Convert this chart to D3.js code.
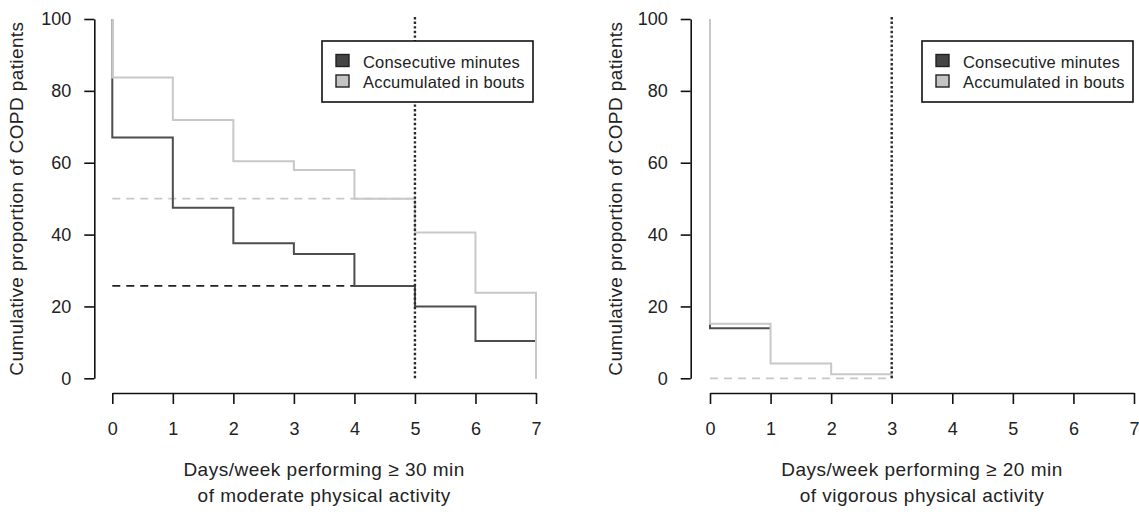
<!DOCTYPE html>
<html>
<head>
<meta charset="utf-8">
<script src="https://cdn.jsdelivr.net/npm/d3@7"></script>
<style>
  html, body { margin: 0; padding: 0; background: #fff; }
  svg { display: block; font-family: "Liberation Sans", Arial, sans-serif; }
</style>
</head>
<body>
<svg id="chart" width="1139" height="512"></svg>
<script>
// ---- data ----
const days = [0, 1, 2, 3, 4, 5, 6, 7];
const yTicks = [0, 20, 40, 60, 80, 100];
const seriesNames = ["Consecutive minutes", "Accumulated in bouts"];
// value of the cumulative proportion on interval [k, k+1]
const moderateConsecutive = [67.0, 47.5, 37.6, 34.6, 25.7, 20.0, 10.4];
const moderateAccumulated = [83.7, 71.9, 60.4, 58.0, 50.0, 40.6, 23.8];
const vigorousConsecutive = [13.9];
const vigorousAccumulated = [15.2, 4.1, 1.1];
const moderateThreshold = 5;
const vigorousThreshold = 3;
const moderateRefLevels = [25.7, 50.0];   // consecutive, accumulated at threshold
const vigorousRefLevels = [null, 0];
const moderateTitle = ["Days/week performing \u2265 30 min", "of moderate physical activity"];
const vigorousTitle = ["Days/week performing \u2265 20 min", "of vigorous physical activity"];
const yTitle = "Cumulative proportion of COPD patients";

// ---- style ----
const darkCol = "#4d4d4d", lightCol = "#c8c8c8";
const svg = d3.select("#chart");

function panel(opts) {
  const x = d3.scaleLinear().domain([0, 7]).range([opts.x0, opts.x7]);
  const y = d3.scaleLinear().domain([0, 100]).range([378.3, 19]);
  const g = svg.append("g");

  // y axis
  const ya = g.append("g").attr("transform", `translate(${opts.yAxisX},0)`)
    .call(d3.axisLeft(y).tickValues(yTicks).tickSize(10).tickSizeOuter(0).tickPadding(13));
  // x axis
  const xa = g.append("g").attr("transform", `translate(0,393)`)
    .call(d3.axisBottom(x).tickValues(days).tickSize(11).tickSizeOuter(0).tickPadding(18).tickFormat(d3.format("d")));
  [ya, xa].forEach(a => {
    a.select(".domain").attr("stroke", "#111").attr("stroke-width", 1.6);
    a.selectAll(".tick line").attr("stroke", "#111").attr("stroke-width", 1.6);
    a.selectAll(".tick text").attr("fill", "#222").style("font-size", "18px")
      .style("font-family", "'Liberation Sans', Arial, sans-serif");
  });

  // axis titles
  g.append("text")
    .attr("transform", `translate(${opts.yTitleX},${(y(0) + y(100)) / 2}) rotate(-90)`)
    .attr("text-anchor", "middle").attr("fill", "#222").style("font-size", "19px")
    .style("letter-spacing", "0.4px")
    .text(yTitle);
  opts.title.forEach((t, i) => {
    g.append("text").attr("x", (x(0) + x(7)) / 2).attr("y", 476 + i * 26)
      .attr("text-anchor", "middle").attr("fill", "#222").style("font-size", "19px")
      .style("letter-spacing", "0.5px")
      .text(t);
  });

  // reference dashed lines
  opts.ref.forEach((v, i) => {
    if (v === null) return;
    g.append("line")
      .attr("x1", x(0)).attr("x2", x(opts.threshold))
      .attr("y1", y(v)).attr("y2", y(v))
      .attr("stroke", i === 0 ? "#222" : lightCol).attr("stroke-width", 1.8)
      .attr("stroke-dasharray", "8,6");
  });

  // step lines
  const line = d3.line().x(d => x(d[0])).y(d => y(d[1]));
  function stepPoints(vals, drop) {
    const pts = [[0, 100]];
    vals.forEach((v, k) => { pts.push([k, v]); pts.push([k + 1, v]); });
    if (drop) pts.push([vals.length, 0]);
    return pts;
  }
  opts.series.forEach((s, i) => {
    g.append("path").attr("d", line(stepPoints(s.vals, s.drop)))
      .attr("fill", "none").attr("stroke", i === 0 ? darkCol : lightCol)
      .attr("stroke-width", 2);
  });

  // dotted threshold line
  g.append("line")
    .attr("x1", x(opts.threshold)).attr("x2", x(opts.threshold))
    .attr("y1", y(100) - 2).attr("y2", y(0))
    .attr("stroke", "#2a2a2a").attr("stroke-width", 2.4)
    .attr("stroke-dasharray", "2.4,2.2");

  // legend
  const lg = g.append("g").attr("transform", `translate(${opts.legendX},41)`);
  lg.append("rect").attr("x", 0).attr("y", 0).attr("width", 211).attr("height", 61)
    .attr("fill", "#fff").attr("stroke", "#111").attr("stroke-width", 1.6);
  seriesNames.forEach((n, i) => {
    lg.append("rect").attr("x", 14).attr("y", 13.5 + i * 20.5).attr("width", 13).attr("height", 12)
      .attr("fill", i === 0 ? "#454545" : "#c4c4c4").attr("stroke", "#222").attr("stroke-width", 1.4);
    lg.append("text").attr("x", 41).attr("y", 26.5 + i * 20.5)
      .attr("fill", "#222").style("font-size", "16.5px").style("letter-spacing", "0.2px").text(n);
  });
}

panel({
  x0: 112.3, x7: 536, yAxisX: 94.3, yTitleX: 23, legendX: 322,
  threshold: moderateThreshold, ref: moderateRefLevels, title: moderateTitle,
  series: [{ vals: moderateConsecutive, drop: true }, { vals: moderateAccumulated, drop: true }]
});
panel({
  x0: 710, x7: 1134, yAxisX: 690.7, yTitleX: 622, legendX: 922,
  threshold: vigorousThreshold, ref: vigorousRefLevels, title: vigorousTitle,
  series: [{ vals: vigorousConsecutive, drop: false }, { vals: vigorousAccumulated, drop: true }]
});
</script>
</body>
</html>
